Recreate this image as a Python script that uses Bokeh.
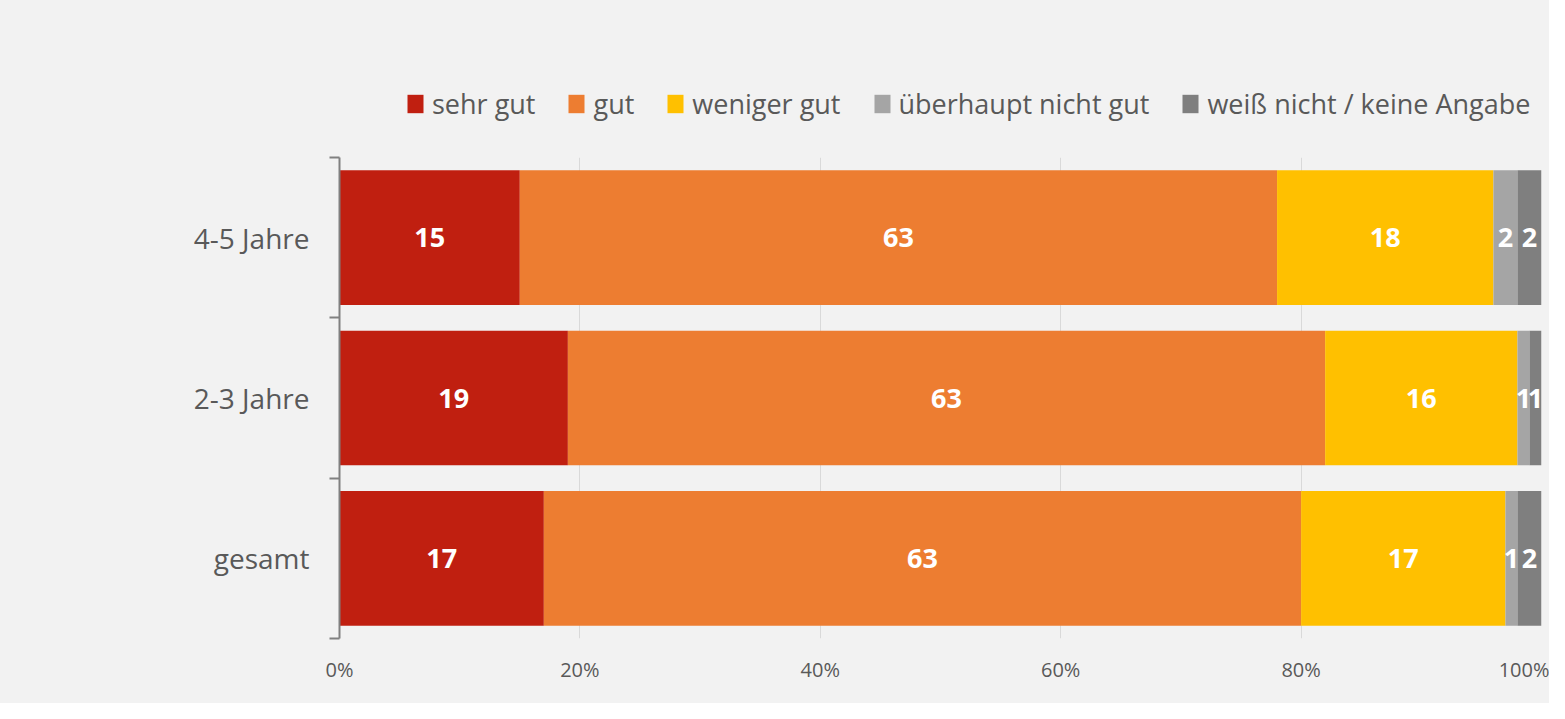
from bokeh.plotting import figure
from bokeh.layouts import column
from bokeh.models import ColumnDataSource, Range1d, FixedTicker, PrintfTickFormatter, Legend, LegendItem
from bokeh.core.properties import value
from bokeh.embed import file_html
from bokeh.resources import INLINE

# ---- data ----
categories = ["gesamt", "2-3 Jahre", "4-5 Jahre"]
series_names = ["sehr gut", "gut", "weniger gut", "überhaupt nicht gut", "weiß nicht / keine Angabe"]
sehr_gut = [17, 19, 15]
gut = [63, 63, 63]
weniger_gut = [17, 16, 18]
ueberhaupt_nicht_gut = [1, 1, 2]
weiss_nicht = [2, 1, 2]
x_ticks = [0, 20, 40, 60, 80, 100]

colors = ["#C01F10", "#ED7D31", "#FFC000", "#A5A5A5", "#7F7F7F"]
keys = ["s0", "s1", "s2", "s3", "s4"]
series = [sehr_gut, gut, weniger_gut, ueberhaupt_nicht_gut, weiss_nicht]

ypos = [i + 0.5 for i in range(len(categories))]
data = {"y": ypos}
for k, s in zip(keys, series):
    data[k] = s
source = ColumnDataSource(data)

FONT = "Open Sans"
TXT = "#595959"
BG = "#F2F2F2"
W = 1549
H_LEG = 130
H_MAIN = 573

# ---- legend strip ----
pl = figure(width=W, height=H_LEG, output_backend="svg", toolbar_location=None,
            x_range=Range1d(0, 1), y_range=Range1d(0, 1),
            min_border_left=0, min_border_right=0, min_border_top=0, min_border_bottom=0)
pl.axis.visible = False
pl.grid.visible = False
pl.background_fill_color = BG
pl.border_fill_color = BG
pl.outline_line_color = None
items = []
for name, c in zip(series_names, colors):
    # keys outside the visible range: only used for the legend swatches
    r = pl.hbar(y=[-10], left=[0], right=[1], height=1, color=c, line_color=None)
    items.append(LegendItem(label=name, renderers=[r]))
lg = Legend(items=items, orientation="horizontal", location=(66, 8),
            background_fill_alpha=0, border_line_color=None, padding=0, margin=0,
            spacing=31, glyph_width=20, glyph_height=23, label_standoff=7,
            label_text_font=FONT, label_text_font_size="27px", label_text_color=TXT)
pl.add_layout(lg, "center")

# ---- main chart ----
p = figure(width=W, height=H_MAIN, output_backend="svg", toolbar_location=None,
           x_range=Range1d(0, 100), y_range=Range1d(0, 3),
           min_border_left=339, min_border_right=8, min_border_top=157 - H_LEG,
           min_border_bottom=65)
p.background_fill_color = BG
p.border_fill_color = BG
p.outline_line_color = None

p.hbar_stack(keys, y="y", height=0.84, color=colors, source=source, line_color=None)

# data labels
lx, ly, lt = [], [], []
for i in range(len(categories)):
    cum = 0
    for s in series:
        v = s[i]
        lx.append(cum + v / 2)
        ly.append(ypos[i])
        lt.append(str(v))
        cum += v
p.text(x=lx, y=ly, text=lt, text_color="white", text_font=value(FONT),
       text_font_style="bold", text_font_size="27px", text_align="center",
       text_baseline="middle")

# x axis
xa = p.xaxis[0]
xa.ticker = FixedTicker(ticks=x_ticks)
xa.formatter = PrintfTickFormatter(format="%d%%")
xa.axis_line_color = None
xa.major_tick_line_color = None
xa.major_tick_out = 0
xa.major_tick_in = 0
xa.minor_tick_line_color = None
xa.major_label_standoff = 17
xa.major_label_text_font = FONT
xa.major_label_text_font_size = "20px"
xa.major_label_text_color = TXT

# y axis
ya = p.yaxis[0]
ya.ticker = FixedTicker(ticks=ypos, minor_ticks=[0, 1, 2, 3])
ya.major_label_overrides = {y: c for y, c in zip(ypos, categories)}
ya.axis_line_color = "#808080"
ya.axis_line_width = 2
ya.major_tick_line_color = None
ya.major_tick_out = 0
ya.major_tick_in = 0
ya.minor_tick_line_color = "#808080"
ya.minor_tick_line_width = 2
ya.minor_tick_out = 10
ya.minor_tick_in = 0
ya.major_label_standoff = 20
ya.major_label_text_font = FONT
ya.major_label_text_font_size = "28px"
ya.major_label_text_color = TXT

# grid
p.xgrid.grid_line_color = "#D9D9D9"
p.xgrid.grid_line_width = 1
p.ygrid.grid_line_color = None

layout = column(pl, p, spacing=0, styles={"background-color": BG})
open("out.html", "w").write(file_html(layout, INLINE))
